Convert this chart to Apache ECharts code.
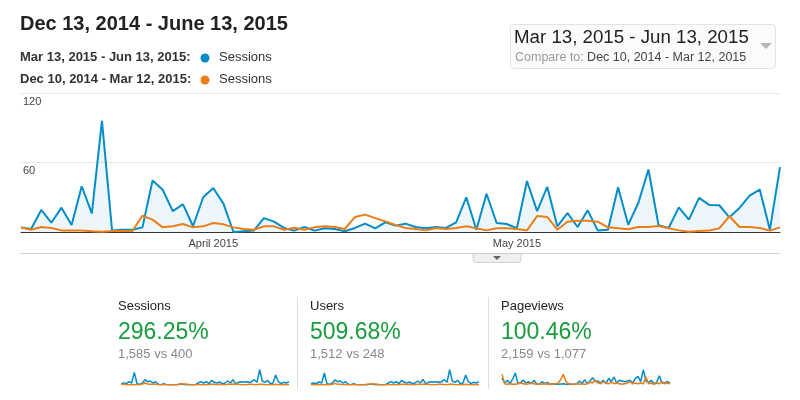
<!DOCTYPE html>
<html><head><meta charset="utf-8">
<script src="https://cdn.jsdelivr.net/npm/echarts@6/dist/echarts.min.js"></script>
<style>html,body{margin:0;padding:0;background:#fff}#c{width:800px;height:400px}</style>
</head><body><div id="c"></div>
<script>
// ---- data ----
var startDate = [2015, 2, 13]; // Mar 13, 2015
var dayCount = 76;
var monthLabels = { 'Apr 1': 'April 2015', 'May 1': 'May 2015' };
var yTicks = [0, 60, 120];

var sessionsCurrent = [4, 2.6, 19, 8, 21, 6, 39.5, 16, 96, 1.4, 2, 2, 4, 44.5, 36.5, 18, 24, 5, 30, 38,
  24.5, 0, 0.6, 1.2, 12, 9, 3.5, 1.2, 4.3, 1.2, 3.2, 2.6, 0.6, 3.5, 7.2, 3.2, 8.4, 5.5, 7.2, 4.3,
  3.2, 4.3, 3.5, 8.4, 30, 2, 33, 7.8, 6.9, 3.2, 44, 18, 39, 4.9, 16.4, 4.3, 18.7, 1.2, 2, 38.6,
  6.3, 25, 54, 5.8, 3.5, 21.3, 10.7, 29.4, 23.4, 23.1, 12.7, 20.8, 31.4, 36.6, 2, 56];
var sessionsPrevious = [4, 2, 4.3, 3.5, 1.4, 1.2, 1.2, 0.6, 0.3, 0.9, 0.9, 0.9, 14, 10.7, 4, 4.9, 6.9, 4, 4.9, 7.8,
  6.6, 4, 2.6, 2, 4.9, 4.9, 2, 3.7, 2, 4, 4.9, 4.3, 2.6, 13, 15, 12, 9.2, 6.1, 3.5, 2.6,
  1.4, 3.5, 2.6, 3.5, 4.9, 3.2, 1.4, 3.2, 3.2, 2.6, 1.4, 13.8, 13, 2, 8.9, 9.8, 9.8, 8.9, 4, 3.2,
  2.3, 4.3, 4.3, 5.2, 3.2, 1.4, 0.3, 0.9, 1.2, 3.2, 13.6, 4.3, 4.3, 3.5, 1.2, 4];

var scoreNames = ['Sessions', 'Users', 'Pageviews'];
var scoreChanges = ['296.25%', '509.68%', '100.46%'];
var scoreTotals = ['1,585 vs 400', '1,512 vs 248', '2,159 vs 1,077'];

var sparkSessionsCur = [4, 6, 4, 10, 6, 38, 4, 2, 6, 16, 10, 12, 6, 10, 2, 1, 4, 1, 1, 1, 1, 1, 2, 2, 1, 1, 1, 1, 1, 6, 10, 6,
  10, 4, 14, 8, 6, 9, 4, 6, 12, 6, 16, 4, 8, 10, 8, 10, 8, 10, 16, 8, 46, 12, 8, 14, 4, 6, 30, 10, 4, 8, 6, 10];
var sparkSessionsPrev = [2, 2, 1, 1, 1, 1, 1, 1, 3, 6, 3, 2, 2, 2, 1, 1, 1, 1, 1, 1, 1, 1, 3, 4, 3, 2, 1, 1, 1, 1, 1, 1,
  1, 1, 2, 2, 1, 2, 1, 1, 2, 2, 3, 2, 2, 1, 1, 1, 2, 2, 1, 1, 2, 2, 1, 1, 1, 1, 2, 1, 1, 1, 1, 1];
var sparkUsersCur = [4, 6, 4, 9, 6, 36, 4, 2, 6, 15, 10, 12, 6, 10, 2, 1, 4, 1, 1, 1, 1, 1, 2, 2, 1, 1, 1, 1, 1, 6, 10, 6,
  10, 4, 14, 8, 6, 9, 4, 6, 12, 6, 17, 4, 8, 10, 8, 10, 8, 10, 16, 8, 46, 12, 8, 14, 4, 6, 30, 10, 4, 8, 6, 10];
var sparkUsersPrev = [1, 1, 1, 1, 1, 1, 1, 1, 2, 5, 2, 2, 1, 1, 1, 1, 1, 1, 1, 1, 1, 2, 3, 3, 3, 2, 1, 1, 1, 1, 1, 1,
  1, 1, 2, 2, 1, 2, 1, 1, 2, 2, 2, 2, 2, 1, 1, 1, 2, 2, 1, 1, 2, 2, 1, 1, 1, 1, 2, 1, 1, 1, 1, 1];
var sparkPageviewsCur = [21, 6, 14, 4, 18, 36, 4, 8, 14, 6, 10, 4, 14, 4, 2, 10, 4, 8, 2, 4, 2, 2, 3, 4, 2, 2, 2, 2, 4, 12, 4, 16,
  4, 12, 22, 10, 12, 6, 14, 4, 20, 10, 24, 6, 14, 12, 10, 12, 14, 6, 20, 26, 10, 46, 12, 8, 14, 4, 8, 28, 6, 6, 10, 6];
var sparkPageviewsPrev = [32, 4, 2, 4, 2, 2, 4, 6, 4, 2, 4, 6, 4, 2, 4, 2, 4, 2, 4, 2, 4, 6, 16, 32, 10, 4, 2, 2, 4, 2, 4, 2,
  4, 8, 6, 14, 6, 4, 10, 6, 4, 8, 4, 6, 4, 2, 4, 6, 10, 4, 6, 4, 6, 4, 24, 4, 6, 2, 6, 4, 10, 4, 6, 4];

// ---- build categories ----
var MON = ['Jan','Feb','Mar','Apr','May','Jun','Jul','Aug','Sep','Oct','Nov','Dec'];
var categories = [];
for (var i = 0; i < dayCount; i++) {
  var d = new Date(startDate[0], startDate[1], startDate[2] + i);
  categories.push(MON[d.getMonth()] + ' ' + d.getDate());
}
function idx(arr) { return arr.map(function (_, i) { return i; }); }

var BLUE = '#058dc7', ORANGE = '#ed7e17';
var FONT = '"Liberation Sans", Arial, sans-serif';

var chart = echarts.init(document.getElementById('c'), null, { renderer: 'canvas' });

var grids = [{ left: 21, right: 20, top: 93, height: 139 }];
var xAxes = [{
  type: 'category', gridIndex: 0, data: categories, boundaryGap: false,
  axisLine: { lineStyle: { color: '#333', width: 1 } }, axisTick: { show: false },
  axisLabel: {
    interval: function (i, v) { return !!monthLabels[v]; },
    formatter: function (v) { return monthLabels[v] || ''; },
    color: '#444', fontSize: 11, fontFamily: FONT, margin: 6
  },
  splitLine: { show: false }
}];
var yAxes = [{
  type: 'value', gridIndex: 0, min: yTicks[0], max: yTicks[yTicks.length - 1], interval: 60,
  axisLine: { show: false }, axisTick: { show: false },
  splitLine: { lineStyle: { color: '#e6e6e6', width: 1 } },
  axisLabel: {
    inside: true, verticalAlign: 'top', margin: 2, padding: [3, 0, 0, 0],
    color: '#444', fontSize: 11, fontFamily: FONT,
    formatter: function (v) { return v === 0 ? '' : String(v); }
  }
}];
var series = [
  { type: 'line', xAxisIndex: 0, yAxisIndex: 0, data: sessionsCurrent, showSymbol: false, symbol: 'none',
    lineStyle: { color: BLUE, width: 2 }, areaStyle: { color: 'rgba(5,141,199,0.1)' }, z: 2 },
  { type: 'line', xAxisIndex: 0, yAxisIndex: 0, data: sessionsPrevious, showSymbol: false, symbol: 'none',
    lineStyle: { color: ORANGE, width: 2 }, z: 3 }
];

var sparkLefts = [121, 311, 502];
var sparkData = [[sparkSessionsCur, sparkSessionsPrev], [sparkUsersCur, sparkUsersPrev], [sparkPageviewsCur, sparkPageviewsPrev]];
for (var s = 0; s < 3; s++) {
  var gi = s + 1;
  grids.push({ left: sparkLefts[s], width: 168, top: 369, height: 16 });
  xAxes.push({ type: 'category', gridIndex: gi, data: idx(sparkData[s][0]), boundaryGap: false, show: false });
  yAxes.push({ type: 'value', gridIndex: gi, min: 0, max: 48, show: false });
  series.push({ type: 'line', xAxisIndex: gi, yAxisIndex: gi, data: sparkData[s][0], symbol: 'none',
    lineStyle: { color: BLUE, width: 1.5 }, areaStyle: { color: 'rgba(5,141,199,0.08)' }, silent: true });
  series.push({ type: 'line', xAxisIndex: gi, yAxisIndex: gi, data: sparkData[s][1], symbol: 'none',
    lineStyle: { color: ORANGE, width: 1.5 }, silent: true });
}

var graphics = [
  { type: 'text', left: 20, top: 14, style: { text: 'Dec 13, 2014 - June 13, 2015', font: 'bold 20px ' + FONT, fill: '#222' } },
  { type: 'text', left: 20, top: 51, style: { text: 'Mar 13, 2015 - Jun 13, 2015:', font: 'bold 13px ' + FONT, fill: '#333' } },
  { type: 'circle', shape: { cx: 205, cy: 58, r: 4.5 }, style: { fill: BLUE } },
  { type: 'text', left: 219, top: 51, style: { text: 'Sessions', font: '13px ' + FONT, fill: '#333' } },
  { type: 'text', left: 20, top: 73, style: { text: 'Dec 10, 2014 - Mar 12, 2015:', font: 'bold 13px ' + FONT, fill: '#333' } },
  { type: 'circle', shape: { cx: 205, cy: 80, r: 4.5 }, style: { fill: ORANGE } },
  { type: 'text', left: 219, top: 73, style: { text: 'Sessions', font: '13px ' + FONT, fill: '#333' } },
  // date range box
  { type: 'rect', shape: { x: 510.5, y: 24.5, width: 265, height: 44, r: 3 }, style: { fill: '#fbfbfb', stroke: '#e3e3e3', lineWidth: 1 } },
  { type: 'text', left: 514, top: 28, style: { text: 'Mar 13, 2015 - Jun 13, 2015', font: '18.7px ' + FONT, fill: '#222' } },
  { type: 'text', left: 515, top: 51, style: { rich: { a: { fill: '#999', font: '12.5px ' + FONT }, b: { fill: '#444', font: '12.5px ' + FONT } }, text: '{a|Compare to:} {b|Dec 10, 2014 - Mar 12, 2015}' } },
  { type: 'polygon', shape: { points: [[760, 43], [772, 43], [766, 49]] }, style: { fill: '#b5b5b5' } },
  // chart bottom line + tab
  { type: 'line', shape: { x1: 20, y1: 253.5, x2: 780, y2: 253.5 }, style: { stroke: '#cfcfcf', lineWidth: 1 } },
  { type: 'rect', shape: { x: 473, y: 253.5, width: 48, height: 9, r: [0, 0, 3, 3] }, style: { fill: '#efefef', stroke: '#d0d0d0', lineWidth: 1 } },
  { type: 'polygon', shape: { points: [[493, 256], [501, 256], [497, 260]] }, style: { fill: '#666' } },
  // separators
  { type: 'line', shape: { x1: 297.5, y1: 297, x2: 297.5, y2: 389 }, style: { stroke: '#dedede', lineWidth: 1 } },
  { type: 'line', shape: { x1: 488.5, y1: 297, x2: 488.5, y2: 389 }, style: { stroke: '#dedede', lineWidth: 1 } }
];
var scoreLefts = [118, 310, 501];
for (var k = 0; k < 3; k++) {
  graphics.push({ type: 'text', left: scoreLefts[k], top: 300, style: { text: scoreNames[k], font: '13px ' + FONT, fill: '#222' } });
  graphics.push({ type: 'text', left: scoreLefts[k], top: 321, style: { text: scoreChanges[k], font: '23px ' + FONT, fill: '#1a9c3e' } });
  graphics.push({ type: 'text', left: scoreLefts[k], top: 348, style: { text: scoreTotals[k], font: '13px ' + FONT, fill: '#888' } });
}

chart.setOption({
  animation: false,
  grid: grids, xAxis: xAxes, yAxis: yAxes, series: series,
  graphic: graphics
});
</script></body></html>
